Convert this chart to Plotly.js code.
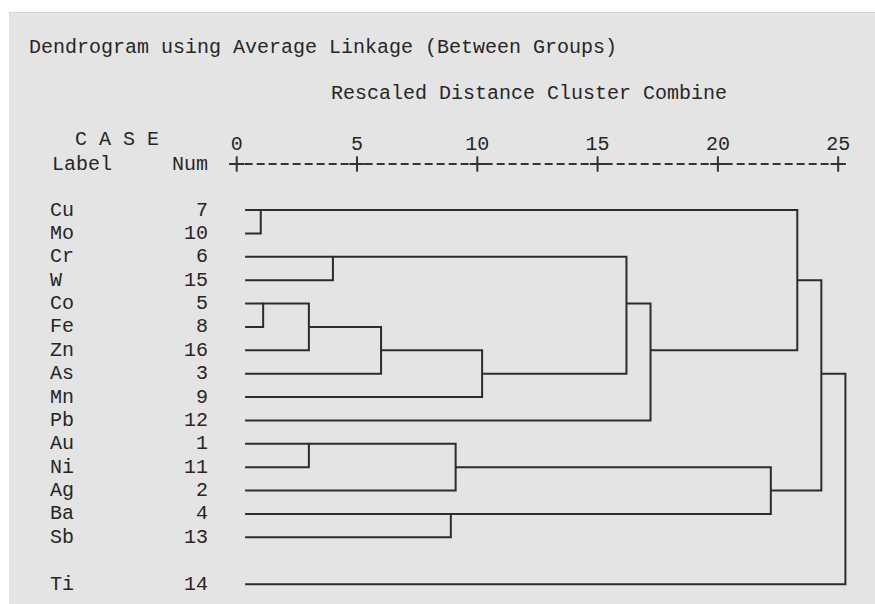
<!DOCTYPE html>
<html>
<head>
<meta charset="utf-8">
<script src="https://cdn.plot.ly/plotly-3.0.1.min.js"></script>
<style>
  html, body { margin: 0; padding: 0; background: #ffffff; width: 875px; height: 604px; overflow: hidden; }
  #chart { position: absolute; left: 9px; top: 12px; width: 866px; height: 592px; border-top: 1px solid #d6d6d6; box-sizing: border-box; }
</style>
</head>
<body>
<div id="chart"></div>
<script>
// ---- data ----
const leafLabels = ['Cu','Mo','Cr','W','Co','Fe','Zn','As','Mn','Pb','Au','Ni','Ag','Ba','Sb','Ti'];
const caseNums   = [7, 10, 6, 15, 5, 8, 16, 3, 9, 12, 1, 11, 2, 4, 13, 14];
// merges: ids 0..15 are leaves, merge k creates cluster id 16+k
const mergeLeft  = [0, 4, 17, 10, 2, 18, 13, 19, 21, 20, 25, 23, 16, 28, 29];
const mergeRight = [1, 5, 6, 11, 3, 7, 14, 12, 8, 24, 9, 22, 26, 27, 15];
const mergeDist  = [1.0, 1.1, 3.0, 3.0, 4.0, 6.0, 8.9, 9.1, 10.2, 16.2, 17.2, 22.2, 23.3, 24.3, 25.3];
const tickVals = [0, 5, 10, 15, 20, 25];
const tickText = ['0', '5', '10', '15', '20', '25'];

// ---- style / layout constants ----
const FONT = {family: 'Liberation Mono, DejaVu Sans Mono, monospace', size: 20, color: '#262626'};
const LINE_COLOR = '#2c2c2c';
const LEAF_START = 0.35;      // leaf lines start just right of the 0 mark
const AXIS_ROW = -1.97;       // row of the "+----+" scale line
const GAP_AFTER = 14;         // blank text line inserted after this leaf index

const nLeaves = leafLabels.length;
const rowOf = {}, startOf = {};
for (let i = 0; i < nLeaves; i++) { rowOf[i] = i + (i > GAP_AFTER ? 1 : 0); startOf[i] = LEAF_START; }

const lx = [], ly = [];
for (let k = 0; k < mergeDist.length; k++) {
  const a = mergeLeft[k], b = mergeRight[k], d = mergeDist[k];
  lx.push(startOf[a], d, d, startOf[b], null);
  ly.push(rowOf[a], rowOf[a], rowOf[b], rowOf[b], null);
  const id = nLeaves + k;
  rowOf[id] = Math.floor((rowOf[a] + rowOf[b]) / 2);
  startOf[id] = d;
}

const traces = [
  {x: lx, y: ly, mode: 'lines', line: {color: LINE_COLOR, width: 2}, hoverinfo: 'skip', showlegend: false},
  {x: [tickVals[0] + 0.33, tickVals[tickVals.length - 1]], y: [AXIS_ROW, AXIS_ROW], mode: 'lines',
   line: {color: '#333333', width: 2, dash: '8px,4px'}, hoverinfo: 'skip', showlegend: false},
  {x: tickVals, y: tickVals.map(() => AXIS_ROW), mode: 'markers',
   marker: {symbol: 'cross-thin', size: 11, line: {color: '#333333', width: 2}}, hoverinfo: 'skip', showlegend: false}
];

const annotations = [];
function txt(text, x, y, xanchor) {
  annotations.push({text: text, x: x, y: y, xref: 'x', yref: 'y', xanchor: xanchor, yanchor: 'middle',
    showarrow: false, font: FONT});
}
for (let i = 0; i < nLeaves; i++) {
  txt(leafLabels[i], -7.84, rowOf[i], 'left');
  txt(String(caseNums[i]), -1.1, rowOf[i], 'right');
}
txt('Label', -7.75, AXIS_ROW, 'left');
txt('Num', -1.1, AXIS_ROW, 'right');
txt('C A S E', -6.8, -3.04, 'left');
txt('Rescaled Distance Cluster Combine', 3.84, -5.0, 'left');
txt('Dendrogram using Average Linkage (Between Groups)', -8.72, -6.95, 'left');

const layout = {
  width: 866, height: 591,
  margin: {l: 0, r: 0, t: 0, b: 0, pad: 0},
  paper_bgcolor: '#e4e4e4', plot_bgcolor: '#e4e4e4',
  showlegend: false,
  xaxis: {range: [-9.464, 26.53], side: 'top', anchor: 'free', position: 0.762,
          tickvals: tickVals, ticktext: tickText, tickfont: FONT, ticks: '',
          showgrid: false, zeroline: false, showline: false, fixedrange: true},
  yaxis: {range: [16.85, -8.43], visible: false, showgrid: false, zeroline: false, fixedrange: true},
  annotations: annotations
};

Plotly.newPlot('chart', traces, layout, {displayModeBar: false, staticPlot: true});
</script>
</body>
</html>
